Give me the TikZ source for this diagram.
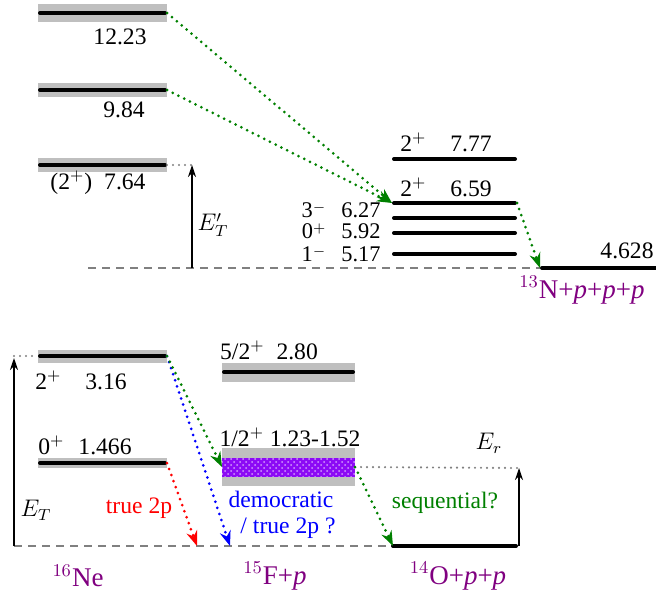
\documentclass[tikz,border=0pt]{standalone}
\usepackage{fontspec}
\setmainfont{Liberation Serif}
\usetikzlibrary{positioning,arrows.meta,patterns}
\definecolor{decgreen}{RGB}{0,128,0}
\definecolor{nucpurple}{RGB}{128,0,128}
\definecolor{bandviolet}{RGB}{140,10,245}
\newcommand{\lowsgn}[1]{\raisebox{0.55ex}{\fontsize{7.5}{7.5}\selectfont$#1$}}

\begin{document}
\begin{tikzpicture}[x=0.5pt, y=-0.5pt, every node/.style={font=\fontsize{11.8}{13}\selectfont, inner sep=0pt}]
    \tikzstyle{band}=[fill=gray!50, inner sep=0pt, outer sep=0pt, minimum width=64.5pt]
    \tikzstyle{lvl}=[line width=2pt, line cap=round, shorten <=1pt, shorten >=1pt]
    \tikzstyle{base}=[gray, line width=0.6pt, dash pattern=on 4pt off 3pt]
    \tikzstyle{guide}=[gray, line width=1.2pt, line cap=round, dash pattern=on 0pt off 3pt]
    \tikzstyle{decay}=[line width=1.5pt, line cap=round, dash pattern=on 0pt off 3.2pt, -{Stealth[length=7.5pt,width=5.5pt]}]
    \tikzstyle{ener}=[line width=0.6pt, -{Stealth[length=6pt,width=4pt]}]
    \tikzstyle{nuc}=[text=nucpurple, font=\fontsize{13.5}{15}\selectfont]
    \tikzstyle{tight}=[text height=7pt, text depth=1pt, font=\fontsize{11.2}{12}\selectfont]
    \useasboundingbox (0,0) rectangle (656,594);

    % 16Ne excited states (upper part)
    \node[band, minimum height=9pt] (ne12) at (102.5,13) {};
    \node[band, minimum height=7pt] (ne98) at (102.5,90) {};
    \node[band, minimum height=7pt] (ne76) at (102.5,165) {};
    \draw[lvl] (ne12.west) -- (ne12.east);
    \draw[lvl] (ne98.west) -- (ne98.east);
    \draw[lvl] (ne76.west) -- (ne76.east);
    \node (l12) at (120,37) {12.23};
    \node (l98) at (124,110) {9.84};
    \node (l76) at (98,183) {(2$^+$)\hspace{6pt}7.64};

    % 13N levels
    \coordinate (n777a) at (392,159); \coordinate (n777b) at (517,159);
    \coordinate (n659a) at (392,203); \coordinate (n659b) at (517,203);
    \coordinate (n627a) at (392,218); \coordinate (n627b) at (517,218);
    \coordinate (n592a) at (392,233); \coordinate (n592b) at (517,233);
    \coordinate (n517a) at (392,254); \coordinate (n517b) at (517,254);
    \draw[lvl] (n777a) -- (n777b);
    \draw[lvl] (n659a) -- (n659b);
    \draw[lvl] (n627a) -- (n627b);
    \draw[lvl] (n592a) -- (n592b);
    \draw[lvl] (n517a) -- (n517b);
    \node (l777) at (446,142) {2$^+$\hspace{12pt}7.77};
    \node (l659) at (446,187) {2$^+$\hspace{12pt}6.59};
    \node[tight, anchor=east] (l627) at (381,211) {3\lowsgn{-}\hspace{8pt}6.27};
    \node[tight, anchor=east] (l592) at (381,232) {0\lowsgn{+}\hspace{8pt}5.92};
    \node[tight, anchor=east] (l517) at (381,255) {1\lowsgn{-}\hspace{8pt}5.17};

    % 13N+p+p+p threshold
    \coordinate (btopa) at (88,268);
    \coordinate (n13a) at (540,268); \coordinate (n13b) at (656,268);
    \draw[base] (btopa) -- (n13a);
    \draw[lvl, shorten >=0pt] (n13a) -- (n13b);
    \node (l4628) at (627,251) {4.628};
    \node[nuc] (n13) at (582,290) {$^{13}$N+\textit{p}+\textit{p}+\textit{p}};

    \coordinate (etp) at (192,165); \coordinate (etpb) at (192,268);
    \draw[guide] (ne76.east) -- (etp);
    \draw[ener] (etpb) -- (etp);
    \node (letp) at (213,225) {$E'_T$};

    \draw[decay, decgreen] (ne12.east) -- (n659a);
    \draw[decay, decgreen] (ne98.east) -- (n659a);
    \draw[decay, decgreen] (n659b) -- (n13a);

    % 16Ne low states (lower part)
    \node[band, minimum height=6.5pt] (ne3) at (102.5,356) {};
    \node[band, minimum height=5pt] (ne1) at (102.5,463) {};
    \draw[lvl] (ne3.west) -- (ne3.east);
    \draw[lvl] (ne1.west) -- (ne1.east);
    \node (l316) at (81,380) {2$^+$\hspace{12pt}3.16};
    \node (l1466) at (85,445) {0$^+$\hspace{7pt}1.466};

    % 15F states
    \node[band, minimum width=66.5pt, minimum height=9.5pt] (f52) at (288.5,372) {};
    \draw[lvl] (f52.west) -- (f52.east);
    \node (l280) at (269,350) {5/2$^+$\hspace{6pt}2.80};
    \node[band, minimum width=66.5pt, minimum height=19pt] (f12) at (288.5,467) {};
    \node[minimum width=66.5pt, minimum height=9.5pt, fill=bandviolet,
          postaction={pattern=crosshatch dots, pattern color=white!60!bandviolet}] (f12c) at (f12) {};
    \node (l123) at (290,437) {1/2$^+$ 1.23-1.52};

    % thresholds
    \coordinate (bbota) at (14,546);
    \coordinate (o14a) at (393,546); \coordinate (o14b) at (518,546);
    \draw[base] (bbota) -- (o14a);
    \draw[lvl, shorten <=0pt] (o14a) -- (o14b);

    \coordinate (et) at (14,358); \coordinate (etg) at (14,356);
    \draw[guide] (etg) -- (ne3.west);
    \draw[ener] (bbota) -- (et);
    \node (let) at (36,510) {$E_T$};

    \coordinate (er) at (519,468); \coordinate (erb) at (519,546);
    \draw[guide] (f12.east) -- (er);
    \draw[ener] (erb) -- (er);
    \node (ler) at (489,443) {$E_r$};

    % decay paths
    \coordinate (t2p) at (197,546);
    \coordinate (dem) at (230,546);
    \draw[decay, red] (ne1.east) -- (t2p);
    \draw[decay, blue] (ne3.east) -- (dem);
    \draw[decay, decgreen] (ne3.east) -- (f12.west);
    \draw[decay, decgreen] (f12.east) -- (o14a);
    \node[text=red] (lt2p) at (139,508) {true 2p};
    \node[text=blue] (ldem) at (281,499) {democratic};
    \node[text=blue] (ldem2) at (288,528) {/ true 2p ?};
    \node[text=decgreen] (lseq) at (445,503) {sequential?};

    \node[nuc] (ne16) at (78,576) {$^{16}$Ne};
    \node[nuc] (f15) at (275,576) {$^{15}$F+\textit{p}};
    \node[nuc] (o14) at (458,576) {$^{14}$O+\textit{p}+\textit{p}};
\end{tikzpicture}
\end{document}
